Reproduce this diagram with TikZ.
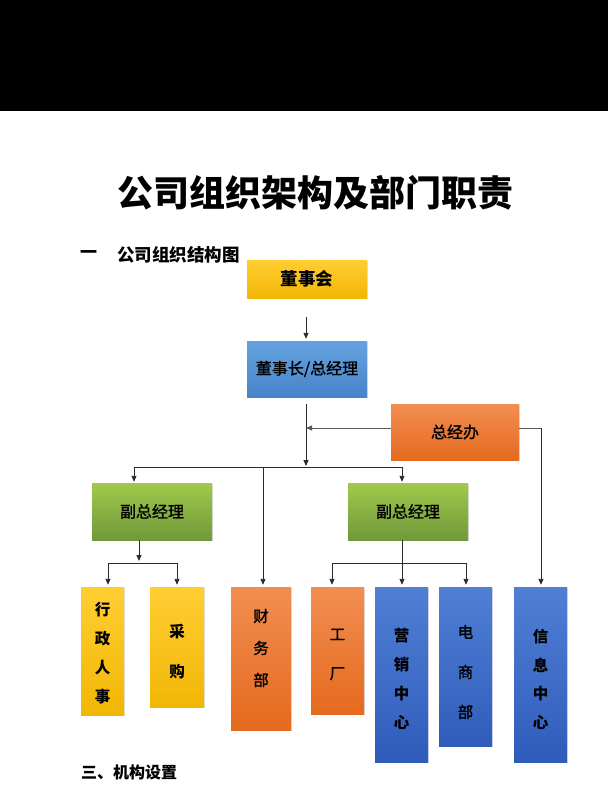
\documentclass[tikz,border=0pt]{standalone}
\usepackage{fontspec}
\newfontfamily\cjk{Noto Sans CJK SC}
\newfontfamily\cjkm[FakeBold=1.2]{Noto Sans CJK SC}
\usetikzlibrary{arrows.meta,shadows}
\definecolor{yT}{HTML}{FFCE33}
\definecolor{yB}{HTML}{F2B705}
\definecolor{bT}{HTML}{64A2DE}
\definecolor{bB}{HTML}{4884CA}
\definecolor{oT}{HTML}{F28E52}
\definecolor{oB}{HTML}{E56A1E}
\definecolor{gT}{HTML}{A0CA4C}
\definecolor{gB}{HTML}{71983A}
\definecolor{dT}{HTML}{507FD4}
\definecolor{dB}{HTML}{2F5CBB}
\definecolor{ln}{HTML}{2A2A2A}
\tikzset{
  box/.style={draw=none, inner sep=0pt, anchor=center,
    drop shadow={opacity=0.25, shadow xshift=1pt, shadow yshift=-1.2pt}},
  ybox/.style={box, top color=yT, bottom color=yB},
  bbox/.style={box, top color=bT, bottom color=bB},
  obox/.style={box, top color=oT, bottom color=oB},
  gbox/.style={box, top color=gT, bottom color=gB},
  dbox/.style={box, top color=dT, bottom color=dB},
  htext/.style={font=\cjkm\fontsize{16}{18}\selectfont, text=black},
  vtext/.style={align=center, inner sep=0pt, text=black},
  conn/.style={draw=ln, line width=0.9pt},
  arr/.style={conn, -{Triangle[length=6pt,width=5pt]}},
}
\begin{document}
\begin{tikzpicture}[x=1pt,y=-1pt]
\useasboundingbox (0,0) rectangle (608,810);
\fill[white] (0,0) rectangle (608,810);
\fill[black] (0,0) rectangle (608,111);
% titles
\node[font=\cjk\bfseries\fontsize{36}{40}\selectfont, inner sep=0pt] (title) at (315,193) {公司组织架构及部门职责};
\node[font=\cjk\bfseries\fontsize{17}{20}\selectfont, inner sep=0pt, anchor=west] (h1a) at (80,255) {一};
\node[font=\cjk\bfseries\fontsize{17.5}{20}\selectfont, inner sep=0pt, anchor=west] (h1b) at (117,255) {公司组织结构图};
\node[font=\cjk\bfseries\fontsize{16}{20}\selectfont, inner sep=0pt, anchor=west] (h3) at (81,772) {三、机构设置};
% top boxes
\node[ybox, minimum width=120, minimum height=38, font=\cjk\bfseries\fontsize{17.5}{20}\selectfont] (dsh) at (307,279) {董事会};
\node[bbox, minimum width=120, minimum height=56, htext] (dsz) at (307,369) {董事长/总经理};
\node[obox, minimum width=128, minimum height=56, htext] (zjb) at (455,432) {总经办};
\node[gbox, minimum width=120, minimum height=57, htext] (fz1) at (152,511.5) {副总经理};
\node[gbox, minimum width=120, minimum height=57, htext] (fz2) at (408,511.5) {副总经理};
% bottom boxes
\node[ybox, minimum width=43, minimum height=128] (xzrs) at (102.5,651) {};
\node[ybox, minimum width=54, minimum height=120] (cg) at (177,647) {};
\node[obox, minimum width=60, minimum height=143] (cwb) at (261,658.5) {};
\node[obox, minimum width=53, minimum height=127] (gc) at (337.5,650.5) {};
\node[dbox, minimum width=53, minimum height=175] (yxzx) at (401.5,674.5) {};
\node[dbox, minimum width=53, minimum height=159] (dsb) at (465.5,666.5) {};
\node[dbox, minimum width=53, minimum height=175] (xxzx) at (540.5,674.5) {};
% vertical labels
\node[vtext, font=\cjk\bfseries\fontsize{15.5}{29}\selectfont] (t1) at (102.5,653.5) {行\\政\\人\\事};
\node[vtext, font=\cjk\bfseries\fontsize{15.5}{40}\selectfont] (t2) at (177,652) {采\\购};
\node[vtext, font=\cjkm\fontsize{15.5}{32}\selectfont] (t3) at (261,648) {财\\务\\部};
\node[vtext, font=\cjkm\fontsize{15.5}{39}\selectfont] (t4) at (337.5,654.5) {工\\厂};
\node[vtext, font=\cjk\bfseries\fontsize{15.5}{29}\selectfont] (t5) at (401.5,678.5) {营\\销\\中\\心};
\node[vtext, font=\cjkm\fontsize{15.5}{40}\selectfont] (t6) at (465.5,672) {电\\商\\部};
\node[vtext, font=\cjk\bfseries\fontsize{15.5}{28.5}\selectfont] (t7) at (540.5,679.5) {信\\息\\中\\心};
% junction coordinates
\coordinate (j1) at (306,467);
\coordinate (jL) at (134,467);
\coordinate (jR) at (402,467);
\coordinate (jC) at (263,467);
\coordinate (k1) at (139,563);
\coordinate (k1L) at (108,563);
\coordinate (k1R) at (177,563);
\coordinate (k2) at (402,563);
\coordinate (k2L) at (332,563);
\coordinate (k2R) at (466,563);
\coordinate (z1) at (306,428);
\coordinate (z2) at (541,428);
% connectors
\draw[arr] ([yshift=-19]dsh.south -| j1) -- ([yshift=2]dsz.north -| j1);
\draw[arr] ([yshift=-7]dsz.south -| j1) -- ([yshift=1]j1);
\draw[arr, draw=gray!70!black] (zjb.west |- z1) -- (z1);
\draw[conn, draw=gray!70!black] (zjb.east |- z2) -- (z2);
\draw[arr] (z2) -- ([yshift=2]xxzx.north -| z2);
\draw[conn] (jL) -- (jR);
\draw[arr] (jL) -- ([yshift=1]fz1.north -| jL);
\draw[arr] (jR) -- ([yshift=1]fz2.north -| jR);
\draw[arr] (jC) -- ([yshift=2]cwb.north -| jC);
\draw[arr] (fz1.south -| k1) -- ([yshift=2]k1);
\draw[conn] (k1L) -- (k1R);
\draw[arr] (k1L) -- ([yshift=2]xzrs.north -| k1L);
\draw[arr] (k1R) -- ([yshift=2]cg.north -| k1R);
\draw[arr] (fz2.south -| k2) -- ([yshift=2]yxzx.north -| k2);
\draw[conn] (k2L) -- (k2R);
\draw[arr] (k2L) -- ([yshift=2]gc.north -| k2L);
\draw[arr] (k2R) -- ([yshift=2]dsb.north -| k2R);
\end{tikzpicture}
\end{document}
